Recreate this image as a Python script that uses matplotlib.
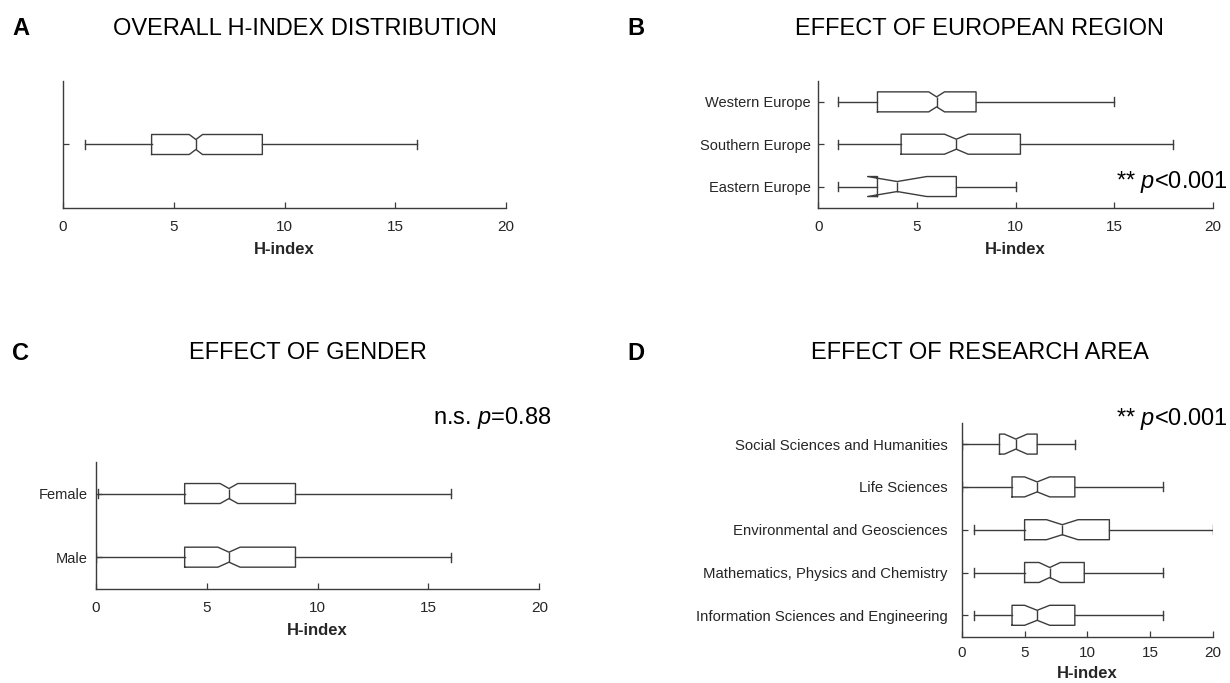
import matplotlib
matplotlib.use("Agg")
import matplotlib.pyplot as plt

plt.rcParams['font.family'] = ['Liberation Sans', 'DejaVu Sans']
plt.rcParams['mathtext.fontset'] = 'custom'
plt.rcParams['mathtext.rm'] = 'Liberation Sans'
plt.rcParams['mathtext.it'] = 'Liberation Sans:italic'

# ---- summary statistics (H-index) ----
# Panel A: all researchers
overall_whislo = [1]
overall_q1 = [4]
overall_med = [6]
overall_q3 = [9]
overall_whishi = [16]
overall_cilo = [5.7]
overall_cihi = [6.3]

# Panel B: European region (bottom to top)
region_labels = ['Eastern Europe', 'Southern Europe', 'Western Europe']
region_whislo = [1, 1, 1]
region_q1 = [3, 4.2, 3]
region_med = [4, 7, 6]
region_q3 = [7, 10.25, 8]
region_whishi = [10, 18, 15]
region_cilo = [2.5, 6.4, 5.6]
region_cihi = [5.5, 7.6, 6.4]

# Panel C: gender (bottom to top)
gender_labels = ['Male', 'Female']
gender_whislo = [0, 0.1]
gender_q1 = [4, 4]
gender_med = [6, 6]
gender_q3 = [9, 9]
gender_whishi = [16, 16]
gender_cilo = [5.5, 5.6]
gender_cihi = [6.5, 6.4]

# Panel D: research area (bottom to top)
area_labels = ['Information Sciences and Engineering',
               'Mathematics, Physics and Chemistry',
               'Environmental and Geosciences',
               'Life Sciences',
               'Social Sciences and Humanities']
area_whislo = [1, 1, 1, 0, 0]
area_q1 = [4, 5, 5, 4, 3]
area_med = [6, 7, 8, 6, 4.3]
area_q3 = [9, 9.75, 11.75, 9, 6]
area_whishi = [16, 16, 20, 16, 9]
area_cilo = [5, 6.15, 6.75, 5, 3.4]
area_cihi = [7, 7.85, 9.25, 7, 5.2]

x_ticks = [0, 5, 10, 15, 20]

W, H = 1230, 683
fig = plt.figure(figsize=(W / 100, H / 100), dpi=100)

LINE = '#3c3c3c'
TEXT = '#262626'


def px_axes(x0, y0, x1, y1):
    return fig.add_axes([x0 / W, 1 - y1 / H, (x1 - x0) / W, (y1 - y0) / H])


def build_stats(lo, q1, med, q3, hi, cilo, cihi):
    return [dict(whislo=a, q1=b, med=c, q3=d, whishi=e, cilo=f, cihi=g, fliers=[])
            for a, b, c, d, e, f, g in zip(lo, q1, med, q3, hi, cilo, cihi)]


def draw_panel(ax, stats, labels, n_rows, ax_h_px, ypad=5.5, ylabelsize=10.5,
               xpad=8.5, labelpad=6):
    row_px = ax_h_px / n_rows
    box_w = 20.0 / row_px
    cap_w = 9.0 / row_px
    pos = list(range(1, len(stats) + 1))
    line_kw = dict(color=LINE, linewidth=1.0)
    ax.bxp(stats, positions=pos, widths=box_w, capwidths=cap_w,
           orientation='horizontal', shownotches=True, showfliers=False,
           boxprops=line_kw, whiskerprops=line_kw, capprops=line_kw,
           medianprops=line_kw, manage_ticks=False)
    ax.set_xlim(0, 20)
    ax.set_xticks(x_ticks)
    ax.set_xticklabels([str(t) for t in x_ticks])
    ax.set_ylim(0.5, n_rows + 0.5)
    ax.set_yticks(pos)
    ax.set_yticklabels(labels)
    for side in ('top', 'right'):
        ax.spines[side].set_visible(False)
    for side in ('left', 'bottom'):
        ax.spines[side].set_color(LINE)
        ax.spines[side].set_linewidth(1.0)
    ax.tick_params(direction='in', length=4, width=0.9, colors=LINE,
                   labelcolor=TEXT, labelsize=11)
    ax.tick_params(axis='x', pad=xpad)
    ax.tick_params(axis='y', pad=ypad, labelsize=ylabelsize)
    ax.set_xlabel('H-index', fontsize=12, fontweight='bold', color=TEXT,
                  labelpad=labelpad)
    ax.set_facecolor('none')


# Panel A
axA = px_axes(63, 80.7, 506, 208.3)
draw_panel(axA, build_stats(overall_whislo, overall_q1, overall_med, overall_q3,
                            overall_whishi, overall_cilo, overall_cihi),
           [''], 1, 127.6)

# Panel B
axB = px_axes(818.3, 80.7, 1212.7, 207.7)
draw_panel(axB, build_stats(region_whislo, region_q1, region_med, region_q3,
                            region_whishi, region_cilo, region_cihi),
           region_labels, 3, 127.0)

# Panel C
axC = px_axes(96, 461.7, 539.3, 589)
draw_panel(axC, build_stats(gender_whislo, gender_q1, gender_med, gender_q3,
                            gender_whishi, gender_cilo, gender_cihi),
           gender_labels, 2, 127.3, ypad=6)

# Panel D
axD = px_axes(961.8, 422.7, 1213, 636.7)
draw_panel(axD, build_stats(area_whislo, area_q1, area_med, area_q3,
                            area_whishi, area_cilo, area_cihi),
           area_labels, 5, 214.0, ypad=10, ylabelsize=10.7, xpad=7, labelpad=4)


def fig_text(x, y, s, **kw):
    fig.text(x / W, 1 - y / H, s, **kw)


# panel letters
for letter, x, y in [('A', 12, 35), ('B', 627, 35), ('C', 12, 360), ('D', 627, 360)]:
    fig_text(x, y, letter, fontsize=17, fontweight='bold', ha='left', va='baseline',
             color='black')

# panel titles
for title, x, y in [('OVERALL H-INDEX DISTRIBUTION', 305, 35),
                    ('EFFECT OF EUROPEAN REGION', 979, 35),
                    ('EFFECT OF GENDER', 308, 359.5),
                    ('EFFECT OF RESEARCH AREA', 980, 359.5)]:
    fig_text(x, y, title, fontsize=17, ha='center', va='baseline', color='black')

# significance annotations
fig_text(1228, 188, r'** $p$<0.001', fontsize=17, ha='right', va='baseline', color='black')
fig_text(552, 424.3, r'n.s. $p$=0.88', fontsize=17, ha='right', va='baseline', color='black')
fig_text(1228, 425, r'** $p$<0.001', fontsize=17, ha='right', va='baseline', color='black')

fig.savefig('out.png', dpi=100, facecolor='white')
